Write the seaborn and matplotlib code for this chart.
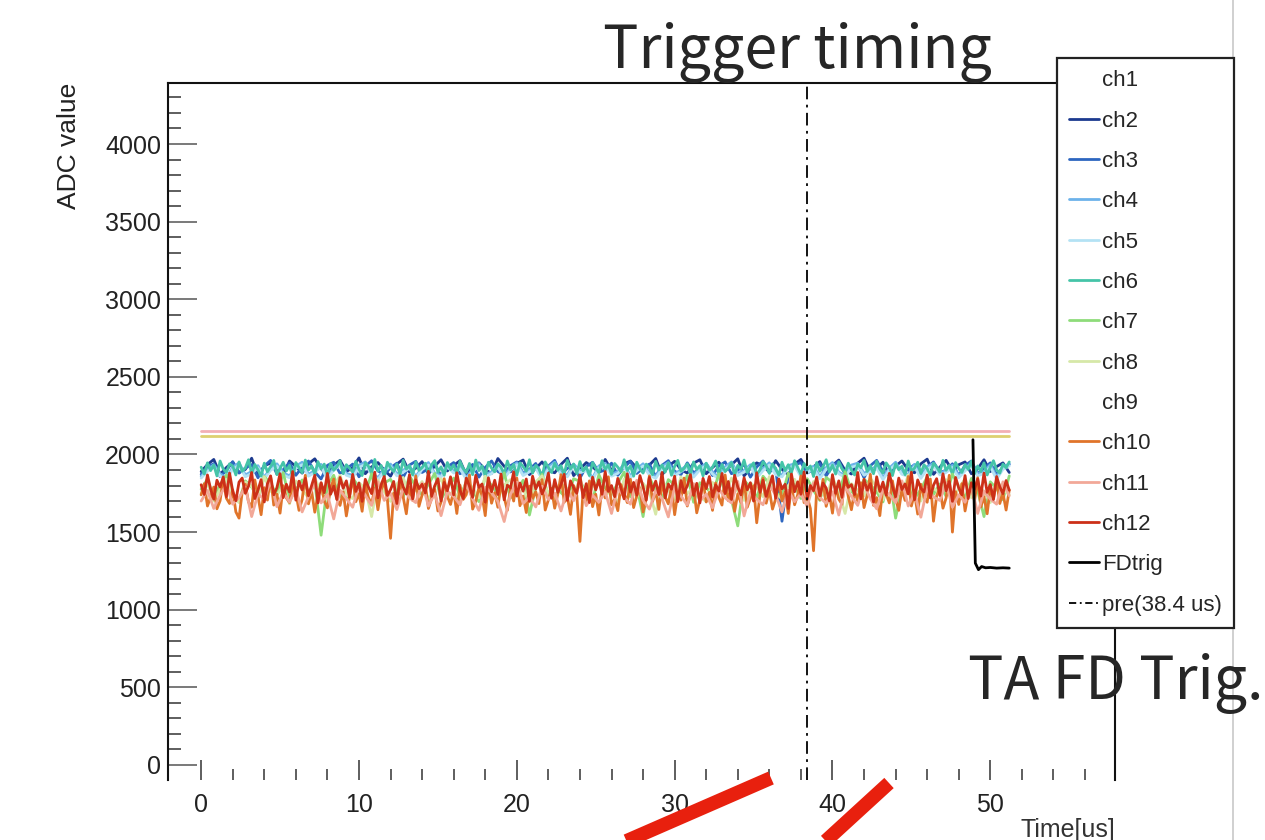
import numpy as np
import pandas as pd
import matplotlib
matplotlib.use("Agg")
import matplotlib.pyplot as plt
from matplotlib.lines import Line2D
import seaborn as sns

# ---------------------------------------------------------------- data
PRE_TRIGGER_US = 38.4
FINE_STEP_US = 0.2     # ch6, ch10, ch12
COARSE_STEP_US = 0.4   # remaining noise channels

ch12 = [1805,1742,1868,1776,1712,1834,1790,1855,1728,1880,1764,1702,1822,1848,1750,1796,1884,1716,1770,1838,
        1694,1812,1862,1740,1786,1876,1722,1808,1758,1890,1706,1828,1772,1846,1734,1800,1866,1688,1818,1754,
        1878,1744,1796,1710,1852,1782,1830,1726,1872,1762,1816,1698,1840,1790,1748,1886,1720,1804,1858,1736,
        1774,1826,1684,1862,1792,1746,1870,1714,1836,1780,1808,1752,1892,1730,1798,1844,1700,1820,1766,1856,
        1740,1882,1770,1716,1848,1796,1724,1866,1788,1810,1692,1850,1760,1834,1742,1874,1708,1802,1784,1888,
        1732,1816,1764,1842,1698,1860,1778,1824,1746,1794,1880,1718,1838,1756,1806,1872,1704,1830,1786,1750,
        1868,1722,1812,1690,1854,1772,1836,1744,1890,1762,1800,1728,1846,1782,1714,1876,1758,1820,1738,1864,
        1792,1706,1852,1768,1828,1742,1884,1720,1810,1776,1860,1696,1832,1754,1798,1870,1736,1814,1688,1846,
        1780,1858,1726,1804,1764,1878,1748,1826,1710,1866,1790,1740,1850,1772,1818,1700,1882,1756,1834,1730,
        1796,1862,1718,1842,1778,1808,1652,1874,1760,1824,1744,1888,1712,1800,1766,1854,1734,1816,1784,1702,
        1870,1750,1830,1724,1860,1788,1806,1742,1884,1714,1840,1770,1812,1694,1856,1762,1822,1738,1878,1792,
        1728,1848,1774,1810,1746,1886,1708,1836,1782,1758,1868,1720,1802,1844,1736,1876,1766,1826,1698,1852,
        1784,1740,1864,1716,1818,1776,1842,1732,1880,1756,1806,1710,1858,1792,1748,1832,1770]
ch10 = [1740,1812,1668,1726,1790,1650,1702,1846,1718,1684,1772,1630,1590,1756,1808,1694,1660,1836,1732,1612,
        1786,1706,1858,1674,1744,1622,1798,1720,1690,1826,1752,1640,1710,1866,1682,1764,1628,1738,1816,1700,
        1656,1780,1842,1714,1672,1760,1604,1730,1852,1696,1748,1634,1806,1722,1680,1784,1644,1770,1828,1712,
        1460,1750,1688,1834,1726,1618,1792,1704,1862,1666,1740,1810,1652,1718,1776,1636,1694,1844,1730,1678,
        1766,1620,1802,1710,1742,1868,1648,1698,1788,1736,1606,1824,1686,1754,1660,1814,1724,1640,1778,1700,
        1848,1670,1732,1626,1796,1716,1760,1684,1838,1642,1708,1782,1654,1746,1870,1692,1728,1614,1800,1738,
        1440,1772,1704,1830,1664,1744,1610,1790,1720,1856,1676,1712,1638,1806,1750,1690,1840,1658,1734,1784,
        1630,1716,1862,1698,1762,1646,1820,1726,1682,1794,1612,1752,1706,1848,1668,1740,1788,1624,1710,1832,
        1694,1756,1640,1816,1724,1674,1868,1702,1780,1634,1746,1690,1826,1660,1718,1798,1560,1736,1846,1686,
        1770,1648,1714,1836,1700,1758,1620,1804,1676,1742,1862,1690,1728,1652,1380,1776,1710,1840,1666,1748,
        1622,1790,1712,1680,1852,1730,1644,1764,1700,1818,1658,1738,1872,1672,1722,1606,1796,1746,1688,1830,
        1714,1640,1776,1704,1858,1668,1750,1616,1808,1724,1692,1842,1570,1734,1782,1654,1720,1866,1500,1760,
        1678,1812,1636,1744,1796,1700,1850,1662,1728,1618,1786,1716,1838,1684,1752,1642,1770]
ch6 = [1918,1874,1946,1896,1932,1862,1958,1906,1884,1940,1926,1868,1952,1892,1914,1966,1878,1936,1902,1860,
       1944,1888,1922,1962,1870,1910,1950,1894,1930,1856,1948,1916,1882,1964,1900,1926,1872,1954,1908,1938,
       1866,1942,1898,1920,1960,1876,1934,1912,1886,1956,1904,1864,1946,1924,1880,1968,1894,1930,1858,1950,
       1914,1890,1938,1872,1962,1906,1928,1868,1952,1898,1916,1944,1876,1934,1960,1886,1920,1866,1948,1902,
       1932,1878,1956,1910,1884,1942,1870,1964,1896,1926,1862,1950,1912,1888,1940,1918,1874,1958,1900,1936,
       1866,1946,1922,1892,1966,1880,1930,1908,1854,1952,1916,1884,1944,1898,1928,1870,1962,1906,1938,1876,
       1954,1894,1920,1864,1948,1912,1882,1960,1902,1934,1872,1942,1918,1888,1966,1896,1926,1860,1950,1908,
       1880,1938,1914,1870,1956,1900,1932,1886,1946,1866,1924,1962,1892,1910,1940,1876,1952,1904,1928,1862,
       1944,1898,1918,1958,1874,1936,1890,1912,1948,1868,1930,1906,1964,1884,1922,1946,1872,1900,1954,1926,
       1878,1940,1910,1866,1950,1896,1934,1882,1960,1916,1870,1942,1904,1926,1858,1948,1892,1920,1966,1888,
       1932,1874,1952,1908,1884,1944,1900,1868,1938,1914,1962,1890,1928,1876,1956,1906,1880,1946,1918,1864,
       1940,1902,1924,1870,1958,1894,1912,1950,1878,1934,1908,1866,1944,1920,1886,1962,1898,1930,1872,1948,
       1910,1884,1936,1904,1956,1876,1926,1890,1946,1868,1918,1960,1900,1880,1938,1914,1952]

ch11 = [1700,1768,1652,1738,1806,1680,1722,1790,1600,1746,1710,1830,1664,1756,1694,1778,1630,1728,1812,1688,
        1742,1585,1770,1716,1660,1800,1736,1672,1824,1704,1750,1645,1782,1720,1690,1816,1668,1748,1606,1762,
        1730,1676,1808,1714,1640,1790,1754,1698,1568,1744,1822,1684,1726,1662,1796,1710,1752,1636,1774,1702,
        1818,1670,1738,1692,1760,1620,1786,1724,1680,1834,1706,1648,1766,1716,1598,1792,1734,1674,1812,1700,
        1744,1656,1778,1720,1688,1826,1604,1758,1712,1676,1802,1740,1630,1770,1696,1748,1664,1816,1722,1686,
        1760,1610,1788,1730,1672,1806,1714,1650,1776,1742,1690,1830,1668,1752,1596,1784,1726,1704,1818,1660,
        1740,1692,1798,1620,1764,1712,1680,1824,1734]
ch7 = [1776,1842,1720,1805,1868,1748,1700,1830,1790,1726,1858,1812,1742,1884,1706,1772,1836,1758,1820,1480,
       1802,1866,1732,1714,1850,1788,1752,1876,1698,1816,1840,1766,1724,1862,1794,1740,1808,1878,1710,1784,
       1848,1730,1822,1770,1696,1856,1800,1746,1882,1720,1764,1834,1610,1790,1872,1736,1806,1754,1716,1844,
       1826,1760,1702,1870,1782,1744,1814,1886,1728,1796,1600,1850,1772,1712,1838,1804,1748,1866,1692,1818,
       1786,1740,1876,1756,1708,1540,1830,1794,1722,1860,1812,1750,1736,1880,1798,1716,1844,1768,1704,1852,
       1820,1744,1888,1762,1726,1840,1806,1758,1694,1868,1590,1788,1832,1714,1776,1856,1742,1810,1730,1874,
       1792,1718,1846,1766,1600,1824,1780,1708,1862]
ch2 = [1890,1935,1968,1872,1916,1950,1884,1904,1976,1862,1928,1944,1896,1870,1958,1922,1880,1940,1972,1908,
       1866,1932,1962,1890,1914,1978,1876,1920,1948,1900,1860,1938,1970,1886,1912,1954,1874,1926,1966,1894,
       1930,1960,1868,1918,1946,1902,1878,1974,1924,1888,1942,1964,1870,1910,1952,1896,1882,1936,1976,1864,
       1906,1948,1920,1884,1968,1898,1872,1940,1958,1914,1890,1932,1974,1868,1924,1956,1902,1880,1944,1966,
       1876,1916,1950,1894,1934,1972,1862,1910,1946,1928,1886,1960,1904,1870,1938,1968,1892,1920,1954,1878,
       1930,1964,1898,1874,1944,1976,1888,1912,1950,1866,1926,1958,1900,1882,1940,1970,1872,1918,1962,1894,
       1934,1952,1876,1908,1966,1890,1922,1946,1884]
ch3 = [1872,1920,1940,1858,1896,1954,1880,1912,1935,1850,1926,1962,1874,1902,1946,1866,1918,1958,1888,1842,
       1930,1950,1878,1906,1938,1856,1924,1960,1894,1870,1914,1944,1852,1932,1956,1884,1908,1940,1862,1920,
       1948,1876,1898,1936,1854,1916,1958,1890,1868,1928,1952,1880,1904,1942,1860,1926,1962,1874,1910,1934,
       1848,1922,1950,1886,1900,1944,1866,1918,1956,1878,1912,1938,1858,1930,1960,1892,1870,1946,1882,1906,
       1940,1864,1926,1952,1876,1898,1936,1854,1920,1958,1888,1910,1570,1868,1932,1948,1880,1904,1942,1862,
       1924,1956,1872,1914,1938,1850,1928,1962,1890,1866,1944,1878,1906,1934,1858,1920,1952,1884,1898,1940,
       1864,1930,1958,1876,1912,1946,1870,1918,1936]
ch4 = [1860,1902,1934,1876,1848,1918,1946,1868,1890,1928,1854,1910,1940,1882,1862,1924,1950,1872,1896,1936,
       1856,1914,1944,1878,1866,1930,1952,1886,1850,1906,1938,1874,1898,1926,1858,1916,1948,1880,1864,1934,
       1892,1920,1852,1904,1942,1870,1888,1932,1860,1912,1946,1876,1900,1924,1854,1918,1950,1884,1868,1938,
       1896,1910,1848,1926,1944,1872,1890,1936,1862,1906,1940,1880,1858,1922,1948,1874,1902,1930,1866,1914,
       1942,1888,1852,1920,1952,1876,1898,1934,1860,1910,1946,1882,1868,1928,1940,1870,1894,1924,1856,1916,
       1948,1886,1864,1932,1944,1878,1900,1926,1850,1912,1950,1884,1872,1936,1858,1920,1942,1880,1896,1930,
       1862,1908,1946,1874,1890,1934,1856,1918,1940]
ch5 = [1848,1892,1920,1862,1836,1906,1930,1856,1878,1914,1842,1898,1926,1868,1850,1910,1934,1860,1884,1922,
       1840,1900,1928,1866,1852,1916,1936,1872,1838,1894,1924,1862,1886,1912,1846,1904,1932,1870,1854,1920,
       1880,1908,1840,1890,1928,1858,1876,1918,1848,1898,1934,1864,1888,1910,1842,1906,1936,1872,1856,1924,
       1882,1896,1836,1914,1930,1860,1878,1920,1850,1894,1926,1868,1846,1908,1934,1862,1890,1916,1854,1902,
       1928,1874,1840,1906,1936,1864,1886,1922,1848,1896,1932,1870,1856,1914,1926,1858,1882,1910,1844,1904,
       1934,1876,1852,1918,1930,1866,1888,1912,1838,1900,1936,1872,1860,1922,1846,1906,1928,1868,1884,1916,
       1850,1894,1932,1862,1878,1920,1842,1904,1926]
ch8 = [1748,1812,1700,1776,1840,1728,1690,1822,1796,1714,1856,1764,1738,1800,1682,1830,1770,1722,1848,1754,
       1706,1790,1866,1742,1716,1818,1780,1600,1836,1760,1698,1810,1852,1734,1772,1826,1708,1794,1844,1726,
       1766,1688,1832,1786,1720,1860,1750,1712,1804,1838,1736,1776,1694,1824,1862,1744,1718,1808,1782,1730,
       1850,1702,1792,1828,1740,1766,1686,1842,1796,1724,1814,1758,1615,1834,1770,1710,1856,1746,1790,1730,
       1696,1820,1774,1738,1848,1762,1704,1816,1786,1728,1858,1748,1714,1800,1840,1736,1692,1826,1778,1720,
       1854,1756,1620,1812,1768,1734,1846,1790,1708,1830,1764,1742,1868,1726,1700,1818,1784,1750,1838,1716,
       1780,1844,1722,1806,1760,1690,1832,1774,1740]

# channels that sit flat above the noise band
ch1_time, ch1_adc = [0.0, 51.2], [2150, 2150]
ch9_time, ch9_adc = [0.0, 51.2], [2118, 2118]

# FD trigger output
fdtrig_time = [48.9, 49.05, 49.25, 49.45, 49.7, 50.0, 50.4, 50.8, 51.2]
fdtrig_adc = [2095, 1300, 1258, 1278, 1270, 1272, 1268, 1270, 1268]

channel_names = ["ch1", "ch2", "ch3", "ch4", "ch5", "ch6", "ch7", "ch8", "ch9",
                 "ch10", "ch11", "ch12", "FDtrig"]
channel_colors = ["#f2b0b6", "#1c3a8f", "#2d66c0", "#6cb2ea", "#b4e2f4", "#45c4a8",
                  "#8edc7a", "#d6e8a8", "#ddd070", "#e0742a", "#f2a898", "#cc3018",
                  "#000000"]
# ch1 / ch9 have no swatch in the legend box
legend_swatch = [False, True, True, True, True, True, True, True, False,
                 True, True, True, True]

# ---------------------------------------------------------------- frame
sns.set_style("ticks")
plt.rcParams["font.family"] = ["Liberation Sans", "DejaVu Sans"]

W, H = 1265, 840
fig = plt.figure(figsize=(W / 100, H / 100), dpi=100)
ax = fig.add_axes([168 / W, 1 - 780 / H, (1115 - 168) / W, (780 - 83) / H])

noise = {"ch2": (ch2, COARSE_STEP_US), "ch3": (ch3, COARSE_STEP_US),
         "ch4": (ch4, COARSE_STEP_US), "ch5": (ch5, COARSE_STEP_US),
         "ch6": (ch6, FINE_STEP_US), "ch7": (ch7, COARSE_STEP_US),
         "ch8": (ch8, COARSE_STEP_US), "ch10": (ch10, FINE_STEP_US),
         "ch11": (ch11, COARSE_STEP_US), "ch12": (ch12, FINE_STEP_US)}

frames = [pd.DataFrame({"time": ch1_time, "adc": ch1_adc, "channel": "ch1"}),
          pd.DataFrame({"time": ch9_time, "adc": ch9_adc, "channel": "ch9"}),
          pd.DataFrame({"time": fdtrig_time, "adc": fdtrig_adc, "channel": "FDtrig"})]
for name, (vals, step) in noise.items():
    t = np.arange(len(vals)) * step
    frames.append(pd.DataFrame({"time": t, "adc": vals, "channel": name}))
df = pd.concat(frames, ignore_index=True)

palette = dict(zip(channel_names, channel_colors))
sns.lineplot(data=df, x="time", y="adc", hue="channel", hue_order=channel_names,
             palette=palette, estimator=None, sort=False, legend=False,
             linewidth=2.0, ax=ax)

ax.axvline(PRE_TRIGGER_US, color="black", lw=1.3, linestyle=(0, (7, 3, 1.5, 3)))

ax.set_xlim(-2.1, 57.9)
ax.set_ylim(-97, 4393)
ax.set_xticks(np.arange(0, 51, 10))
ax.set_xticks(np.arange(0, 58, 2), minor=True)
ax.set_yticks(np.arange(0, 4001, 500))
ax.set_yticks(np.arange(0, 4393, 100), minor=True)

ax.tick_params(axis="x", which="major", direction="in", length=14.5, width=1.1,
               color="#333333", labelsize=18, pad=9, labelcolor="#222222")
ax.tick_params(axis="x", which="minor", direction="in", length=8, width=1.1,
               color="#333333")
ax.tick_params(axis="y", which="major", direction="in", length=21, width=1.1,
               color="#555555", labelsize=18, pad=5, labelcolor="#222222")
ax.tick_params(axis="y", which="minor", direction="in", length=9.5, width=1.1,
               color="#333333")

for side in ("left", "top", "right"):
    ax.spines[side].set_color("#111111")
    ax.spines[side].set_linewidth(1.5)
ax.spines["bottom"].set_visible(False)

ax.set_ylabel("ADC value", loc="top", fontsize=19, labelpad=17, color="#222222")
ax.set_xlabel("Time[us]", loc="right", fontsize=18, labelpad=1, color="#333333")

# ---------------------------------------------------------------- legend
handles = [Line2D([], [], color=c if s else "none", lw=2)
           for c, s in zip(channel_colors, legend_swatch)]
handles.append(Line2D([], [], color="black", lw=1.3, linestyle=(0, (4, 2, 1, 2))))
labels = channel_names + [f"pre({PRE_TRIGGER_US} us)"]
leg = fig.legend(handles, labels, loc="upper left",
                 bbox_to_anchor=(1057 / W, 1 - 58 / H), borderaxespad=0,
                 fontsize=16, frameon=True, fancybox=False, framealpha=1,
                 edgecolor="#222222", borderpad=0.55, labelspacing=0.87,
                 handlelength=1.35, handletextpad=0.12)
leg.get_frame().set_linewidth(1.6)

# ---------------------------------------------------------------- notes
fig.text(603 / W, 1 - 68 / H, "Trigger timing", fontsize=42.5, va="baseline",
         ha="left", family=["Noto Sans CJK JP", "DejaVu Sans"])
fig.text(968 / W, 1 - 699 / H, "TA FD Trig.", fontsize=42.5, va="baseline",
         ha="left", family=["Noto Sans CJK JP", "DejaVu Sans"], zorder=6)

fig.add_artist(Line2D([1233 / W, 1233 / W], [0, 1], color="#c8c8c8", lw=1.2))
for (x0, y0), (x1, y1) in [((615, 846), (771, 778)), ((818, 848), (889, 783))]:
    fig.add_artist(Line2D([x0 / W, x1 / W], [1 - y0 / H, 1 - y1 / H],
                          color="#e8200e", lw=10, solid_capstyle="butt"))

fig.savefig("out.png", dpi=100)
